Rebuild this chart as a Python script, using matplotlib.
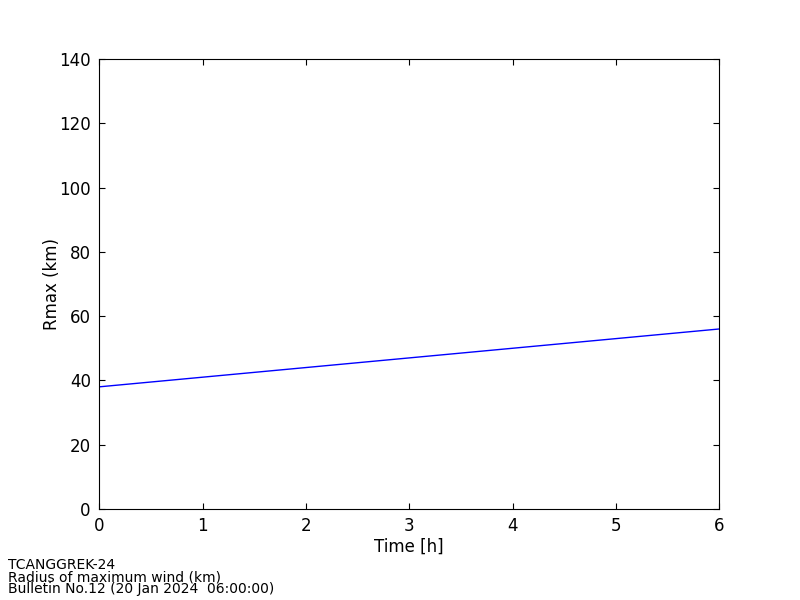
import matplotlib
matplotlib.use("Agg")
import matplotlib.pyplot as plt

hours = [0, 1, 2, 3, 4, 5, 6]
rmax = [38, 41, 44, 47, 50, 53, 56]
footer = ["TCANGGREK-24", "Radius of maximum wind (km)", "Bulletin No.12 (20 Jan 2024  06:00:00)"]

fig = plt.figure(figsize=(8, 6), dpi=100)
ax = fig.add_axes([0.124, 0.1517, 0.775, 0.75])
ax.plot(hours, rmax, color="blue", linewidth=1)
ax.set_xlim(0, 6)
ax.set_ylim(0, 140)
ax.set_xticks(range(0, 7))
ax.set_yticks(range(0, 141, 20))
ax.tick_params(direction="in", top=True, right=True, labelsize=12, length=4, pad=6)
ax.set_xlabel("Time [h]", fontsize=12, labelpad=2)
ax.set_ylabel("Rmax (km)", fontsize=12, labelpad=-1)
for i, t in enumerate(footer):
    fig.text(0.01, 0.0583 - i * 0.02, t, fontsize=10, va="center")
fig.savefig("out.png", dpi=100)
